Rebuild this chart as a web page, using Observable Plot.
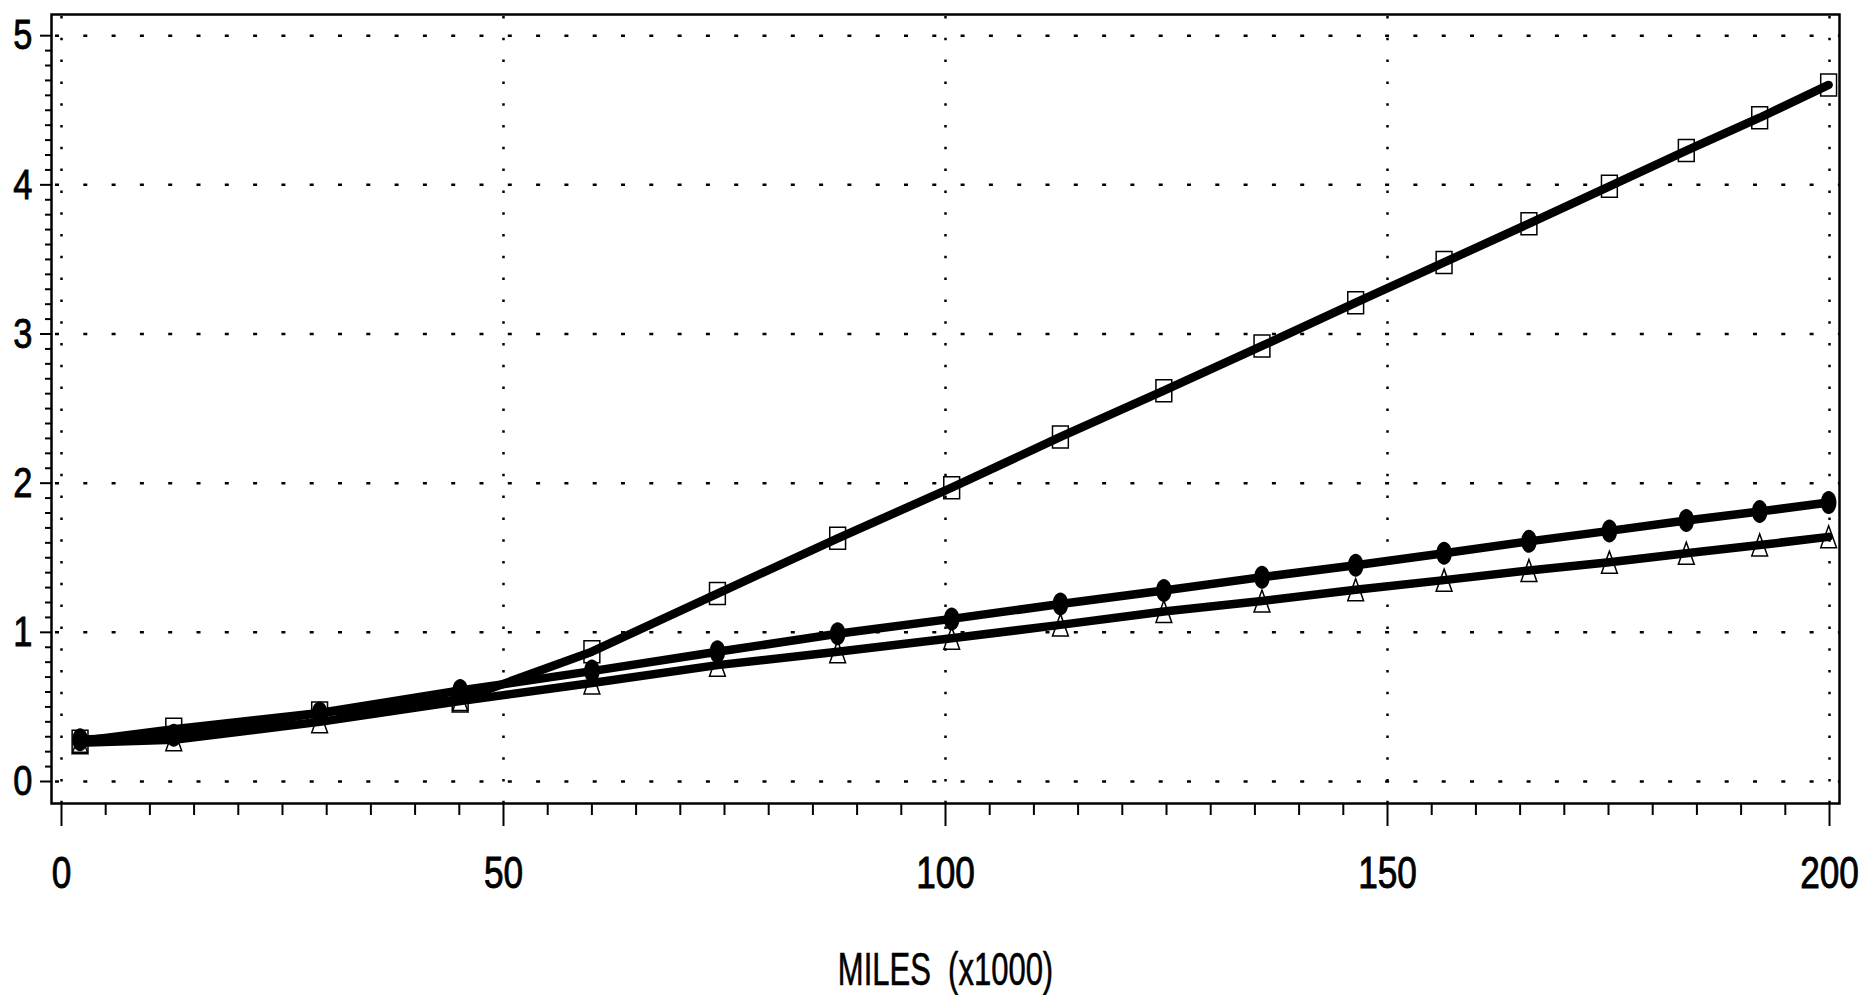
<!DOCTYPE html>
<html>
<head>
<meta charset="utf-8">
<script src="https://cdn.jsdelivr.net/npm/d3@7"></script>
<script src="https://cdn.jsdelivr.net/npm/@observablehq/plot@0.6"></script>
<style>
  html, body { margin: 0; padding: 0; background: #fff; }
  #chart svg { display: block; }
</style>
</head>
<body>
<div id="chart"></div>
<script>
// ---- data ----
const miles = [2.1, 12.7, 29.2, 45.1, 60.0, 74.2, 87.8, 100.7, 113.0, 124.7, 135.8, 146.4, 156.4, 166.0, 175.1, 183.8, 192.1, 199.9];
const squareVals = [0.27, 0.35, 0.46, 0.55, 0.87, 1.26, 1.63, 1.97, 2.31, 2.62, 2.92, 3.21, 3.48, 3.74, 3.99, 4.23, 4.45, 4.67];
const circleVals = [0.28, 0.31, 0.46, 0.61, 0.74, 0.87, 0.99, 1.09, 1.19, 1.28, 1.37, 1.45, 1.53, 1.61, 1.68, 1.75, 1.81, 1.87];
const triangleVals = [0.26, 0.28, 0.40, 0.54, 0.66, 0.78, 0.87, 0.96, 1.05, 1.14, 1.21, 1.285, 1.35, 1.415, 1.47, 1.53, 1.585, 1.64];

const xTicks = [0, 50, 100, 150, 200];
const xTickLabels = ["0", "50", "100", "150", "200"];
const yTicks = [0, 1, 2, 3, 4, 5];
const yTickLabels = ["0", "1", "2", "3", "4", "5"];
const xMinorTicks = d3.range(0, 201, 5).filter(v => v % 50 !== 0);
const yMinorTicks = d3.range(0, 51).map(i => i / 10).filter(v => !Number.isInteger(v));
const xTitle = "MILES\u00a0 (x1000)";

// ---- table ----
const rows = [];
miles.forEach((m, i) => {
  rows.push({series: "square", x: m, y: squareVals[i]});
  rows.push({series: "circle", x: m, y: circleVals[i]});
  rows.push({series: "triangle", x: m, y: triangleVals[i]});
});
const squares = rows.filter(d => d.series === "square");
const circles = rows.filter(d => d.series === "circle");
const triangles = rows.filter(d => d.series === "triangle");

// ---- tall marker symbols ----
const ASPECT = 0.72;
const rsz = size => Math.sqrt(size / Math.PI);
const tallRect = {draw(ctx, size) {
  const h = rsz(size), w = h * ASPECT;
  ctx.moveTo(-w, -h); ctx.lineTo(w, -h); ctx.lineTo(w, h); ctx.lineTo(-w, h); ctx.closePath();
}};
const tallTriangle = {draw(ctx, size) {
  const h = rsz(size), w = h * ASPECT;
  ctx.moveTo(0, -h); ctx.lineTo(w, h); ctx.lineTo(-w, h); ctx.closePath();
}};
const tallEllipse = {draw(ctx, size) {
  const ry = rsz(size), rx = ry * 0.68, k = 0.5523;
  ctx.moveTo(rx, 0);
  ctx.bezierCurveTo(rx, k * ry, k * rx, ry, 0, ry);
  ctx.bezierCurveTo(-k * rx, ry, -rx, k * ry, -rx, 0);
  ctx.bezierCurveTo(-rx, -k * ry, -k * rx, -ry, 0, -ry);
  ctx.bezierCurveTo(k * rx, -ry, rx, -k * ry, rx, 0);
  ctx.closePath();
}};

const FONT = "'Liberation Sans', Arial, sans-serif";

const chart = Plot.plot({
  width: 1862,
  height: 995,
  marginLeft: 51,
  marginRight: 23,
  marginTop: 14,
  marginBottom: 192,
  x: {domain: [-1.13, 201.13]},
  y: {domain: [-0.1475, 5.142]},
  style: {fontFamily: FONT, background: "white", color: "black"},
  marks: [
    // dotted grid
    Plot.ruleY(yTicks, {stroke: "black", strokeWidth: 2.5, strokeDasharray: "4,24.3", strokeDashoffset: -4}),
    Plot.ruleX(xTicks, {stroke: "black", strokeWidth: 2.5, strokeDasharray: "2.5,19.3", strokeDashoffset: -2}),
    // axes
    Plot.axisY(yMinorTicks, {anchor: "left", tickSize: 6, tickFormat: () => "", label: null, strokeWidth: 2}),
    Plot.axisY(yTicks, {anchor: "left", tickSize: 11, tickPadding: 8, tickFormat: (d, i) => yTickLabels[i], label: null, fontSize: 43, strokeWidth: 2}),
    Plot.axisX(xMinorTicks, {anchor: "bottom", tickSize: 12, tickFormat: () => "", label: null, strokeWidth: 2}),
    Plot.axisX(xTicks, {anchor: "bottom", tickSize: 23, tickPadding: 30, tickFormat: (d, i) => xTickLabels[i], label: null, fontSize: 44, strokeWidth: 2}),
    Plot.text([xTitle], {frameAnchor: "bottom", dy: 166, fontSize: 47, fill: "black", lineAnchor: "middle", className: "xtitle"}),
    // markers (outlined) below the lines
    Plot.dot(squares, {x: "x", y: "y", symbol: tallRect, r: 11, stroke: "black", strokeWidth: 1.5, fill: "none"}),
    Plot.dot(triangles, {x: "x", y: "y", symbol: tallTriangle, r: 11, stroke: "black", strokeWidth: 1.5, fill: "none"}),
    // lines
    Plot.line(rows, {x: "x", y: "y", z: "series", stroke: "black", strokeWidth: 8.5, strokeLinejoin: "round", strokeLinecap: "round"}),
    // filled circles
    Plot.dot(circles, {x: "x", y: "y", symbol: tallEllipse, r: 11.5, fill: "black", stroke: "none"}),
    Plot.frame({stroke: "black", strokeWidth: 2.5})
  ]
});
document.getElementById("chart").appendChild(chart);

// condense the lettering horizontally (the reference uses a narrow face)
d3.select(chart).selectAll("text").each(function () {
  const t = this;
  if (!t.textContent) return;
  const isTitle = t.textContent.startsWith("MILES");
  const SX = isTitle ? 0.66 : 0.8;
  const bb = t.getBBox();
  const anchor = getComputedStyle(t).textAnchor;
  const ax = anchor === "middle" ? bb.x + bb.width / 2 : anchor === "end" ? bb.x + bb.width : bb.x;
  const prev = t.getAttribute("transform") || "";
  t.setAttribute("transform", `${prev} translate(${ax},0) scale(${SX},1) translate(${-ax},0)`);
  t.setAttribute("stroke", "black");
  t.setAttribute("stroke-width", isTitle ? "0.6" : "0.9");
});
</script>
</body>
</html>
